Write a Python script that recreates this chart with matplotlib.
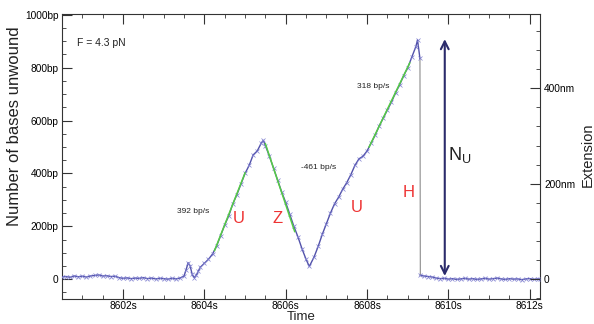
import matplotlib
matplotlib.use("Agg")
import matplotlib.pyplot as plt
from matplotlib.ticker import MultipleLocator, FixedLocator, FuncFormatter

plt.rcParams['font.family'] = ['Liberation Sans', 'DejaVu Sans']

# trace: time (s) and number of bases unwound (bp)
t = [8600.5, 8600.6, 8600.7, 8600.8, 8600.9, 8601.0, 8601.1, 8601.2, 8601.3, 8601.4,
     8601.5, 8601.6, 8601.7, 8601.8, 8601.9, 8602.0, 8602.1, 8602.2, 8602.3, 8602.4,
     8602.5, 8602.6, 8602.7, 8602.8, 8602.9, 8603.0, 8603.1, 8603.2, 8603.3, 8603.4,
     8603.5, 8603.55, 8603.6, 8603.65, 8603.7, 8603.75, 8603.8, 8603.85, 8603.9, 8604.0,
     8604.1, 8604.2, 8604.3, 8604.4, 8604.5, 8604.6, 8604.7, 8604.8, 8604.9, 8605.0,
     8605.1, 8605.2, 8605.3, 8605.4, 8605.45, 8605.5, 8605.6, 8605.7, 8605.8, 8605.9,
     8606.0, 8606.1, 8606.2, 8606.3, 8606.4, 8606.5, 8606.58, 8606.7, 8606.8, 8606.9,
     8607.0, 8607.1, 8607.2, 8607.3, 8607.4, 8607.5, 8607.6, 8607.7, 8607.8, 8607.9,
     8608.0, 8608.1, 8608.2, 8608.3, 8608.4, 8608.5, 8608.6, 8608.7, 8608.8, 8608.9,
     8609.0, 8609.1, 8609.2, 8609.24, 8609.3]
bp = [8, 10, 7, 12, 9, 11, 8, 12, 14, 16,
      12, 13, 10, 11, 6, 3, 5, 2, 4, 3,
      6, 2, 4, 1, 3, 2, 0, 3, 1, 4,
      12, 35, 62, 50, 18, 6, 14, 30, 45, 60,
      75, 95, 125, 165, 205, 240, 285, 320, 360, 400,
      430, 470, 485, 515, 525, 505, 465, 420, 375, 330,
      290, 245, 200, 160, 115, 75, 48, 85, 125, 170,
      210, 250, 285, 310, 340, 365, 395, 430, 455, 465,
      485, 515, 545, 580, 610, 640, 670, 705, 735, 770,
      800, 840, 880, 905, 835]

# after the hairpin closes
t_after = [8609.31, 8609.4, 8609.5, 8609.6, 8609.7, 8609.8, 8609.9, 8610.0, 8610.1, 8610.2,
           8610.3, 8610.4, 8610.5, 8610.6, 8610.7, 8610.8, 8610.9, 8611.0, 8611.1, 8611.2,
           8611.3, 8611.4, 8611.5, 8611.6, 8611.7, 8611.8, 8611.9, 8612.0, 8612.1, 8612.2, 8612.25]
bp_after = [14, 12, 10, 8, 4, 2, 3, 0, 2, -1,
            1, 3, 0, 2, -1, 1, 3, 0, 2, 4,
            1, -1, 2, 0, 1, -2, 1, 2, -1, 1, 0]

# linear fits: start time, end time, start value, rate (bp/s)
fit_t0 = [8604.25, 8605.5, 8608.05]
fit_t1 = [8605.0, 8606.22, 8609.05]
fit_v0 = [108, 512, 500]
fit_rate = [392, -461, 318]
fit_text = ['392 bp/s', '-461 bp/s', '318 bp/s']
fit_text_xy = [(8603.73, 255), (8606.81, 422), (8608.14, 730)]

phase_labels = ['U', 'Z', 'U', 'H']
phase_xy = [(8604.84, 229), (8605.80, 229), (8607.74, 270), (8609.03, 329)]

NM_PER_BP = 0.554

fig = plt.figure(figsize=(5.94, 3.24), dpi=100)
ax = fig.add_axes([0.1044, 0.0772, 0.8046, 0.8796])

line_c = '#5252aa'
ax.plot(t, bp, color=line_c, lw=1.0, marker='x', ms=2.5, mew=0.5, mec='#8080d0', zorder=3)
ax.plot([t[-1], t_after[0]], [bp[-1], bp_after[0]], color='#999999', lw=0.9, zorder=2)
ax.plot(t_after, bp_after, color=line_c, lw=1.0, marker='x', ms=2.5, mew=0.5, mec='#8080d0', zorder=3)

for t0, t1, v0, r in zip(fit_t0, fit_t1, fit_v0, fit_rate):
    ax.plot([t0, t1], [v0, v0 + r * (t1 - t0)], color='#55cc44', lw=1.1, zorder=4)

for s, (x, y) in zip(fit_text, fit_text_xy):
    ax.text(x, y, s, fontsize=6, ha='center', va='center', color='#222222')

for s, (x, y) in zip(phase_labels, phase_xy):
    ax.text(x, y, s, fontsize=12, ha='center', va='center', color='#ee3333')

ax.text(8600.87, 893, 'F = 4.3 pN', fontsize=7.5, ha='left', va='center', color='#222222')

# N_U arrow
ax.annotate('', xy=(8609.91, 908), xytext=(8609.91, 12),
            arrowprops=dict(arrowstyle='<->', color='#2b2b6b', lw=1.5,
                            mutation_scale=14, shrinkA=0, shrinkB=0))
ax.text(8609.98, 470, r'N$_\mathregular{U}$', fontsize=13, ha='left', va='center', color='#222222')

ax.set_xlim(8600.5, 8612.25)
ax.set_ylim(-75, 1003)
ax.xaxis.set_major_locator(FixedLocator([8602, 8604, 8606, 8608, 8610, 8612]))
ax.xaxis.set_minor_locator(MultipleLocator(0.5))
ax.xaxis.set_major_formatter(FuncFormatter(lambda v, p: '%ds' % v))
ax.yaxis.set_major_locator(FixedLocator([0, 200, 400, 600, 800, 1000]))
ax.yaxis.set_minor_locator(MultipleLocator(50))
ax.yaxis.set_major_formatter(FuncFormatter(lambda v, p: '0' if v == 0 else '%dbp' % v))
ax.tick_params(which='both', direction='in', top=True, right=False, labelsize=7.3,
               color='#333333', pad=2.5)
ax.tick_params(axis='x', which='both', pad=1.5)
ax.tick_params(which='major', length=7, width=0.8)
ax.tick_params(which='minor', length=3, width=0.6)
for sp in ax.spines.values():
    sp.set_color('#333333')
    sp.set_linewidth(0.8)

ax2 = ax.twinx()
ax2.set_ylim(-75 * NM_PER_BP, 1003 * NM_PER_BP)
ax2.yaxis.set_major_locator(FixedLocator([0, 200, 400]))
ax2.yaxis.set_minor_locator(MultipleLocator(40))
ax2.yaxis.set_major_formatter(FuncFormatter(lambda v, p: '0' if v == 0 else '%dnm' % v))
ax2.tick_params(which='both', direction='in', labelsize=7.3, color='#333333', pad=3)
ax2.tick_params(which='major', length=7, width=0.8)
ax2.tick_params(which='minor', length=3, width=0.6)
for sp in ax2.spines.values():
    sp.set_visible(False)

fig.text(15 / 594, 1 - 126.5 / 324, 'Number of bases unwound', rotation=90,
         ha='center', va='center', fontsize=12, color='#222222')
fig.text(301 / 594, 1 - 317.5 / 324, 'Time', ha='center', va='center',
         fontsize=9.5, color='#222222')
fig.text(588 / 594, 1 - 155 / 324, 'Extension', rotation=90, ha='center', va='center',
         fontsize=10.5, color='#222222')

fig.savefig('out.png', dpi=100)
